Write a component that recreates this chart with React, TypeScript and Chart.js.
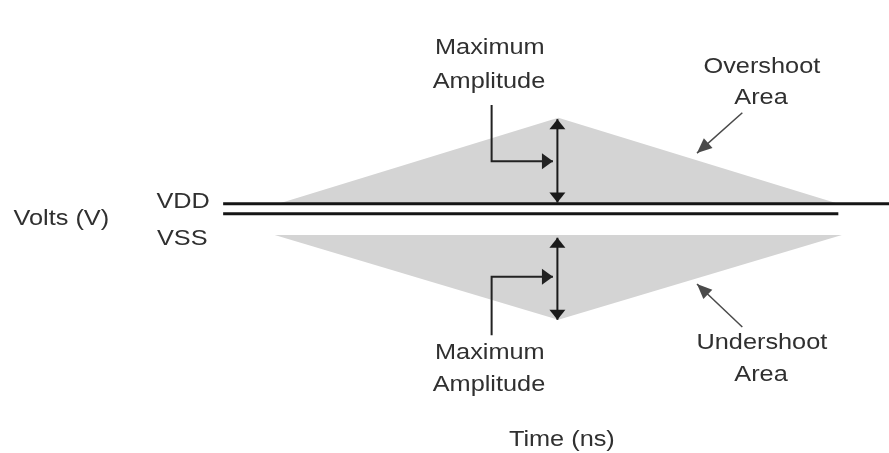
import React, { useEffect, useRef } from "react";
import { Chart, registerables } from "chart.js";

Chart.register(...registerables);

// Abstract axes: time (ns) 0..100 left→right, volts 0..100 bottom→top
const timeRange = [0, 100];
const voltRange = [0, 100];

// Supply rails
const vddLevel = 55.0;
const vssLevel = 52.8;
const vddSpan = [25.1, 100];
const vssSpan = [25.1, 94.3];

// Shaded regions
const overshootArea = [
  { x: 31.3, y: 55.0 },
  { x: 62.8, y: 74.0 },
  { x: 94.3, y: 55.0 },
];
const undershootBase = 48.1;
const undershootArea = [
  { x: 30.9, y: 48.1 },
  { x: 62.8, y: 29.4 },
  { x: 94.7, y: 48.1 },
];

// Maximum amplitude markers (double arrows)
const overshootAmplitude = [
  { x: 62.7, y: 55.3 },
  { x: 62.7, y: 73.7 },
];
const undershootAmplitude = [
  { x: 62.7, y: 47.5 },
  { x: 62.7, y: 29.4 },
];

// Leader arrows
const upperLeader = [
  { x: 55.3, y: 76.8 },
  { x: 55.3, y: 64.4 },
  { x: 62.2, y: 64.4 },
];
const lowerLeader = [
  { x: 55.3, y: 26.0 },
  { x: 55.3, y: 38.9 },
  { x: 62.2, y: 38.9 },
];
const overshootPointer = [
  { x: 83.5, y: 75.1 },
  { x: 78.4, y: 66.2 },
];
const undershootPointer = [
  { x: 83.5, y: 27.8 },
  { x: 78.4, y: 37.3 },
];

// Text labels
const labelTexts = [
  "Maximum", "Amplitude",
  "Maximum", "Amplitude",
  "Overshoot", "Area",
  "Undershoot", "Area",
  "Volts (V)", "VDD", "VSS", "Time (ns)",
];
const labelX = [55.1, 55.0, 55.1, 55.0, 85.7, 85.6, 85.7, 85.6, 6.9, 20.6, 20.5, 63.2];
const labelY = [89.4, 81.9, 22.1, 15.0, 85.2, 78.4, 24.3, 17.2, 51.7, 55.4, 47.2, 2.9];

const arrowPlugin = {
  id: "arrowHeads",
  afterDatasetsDraw(chart: any) {
    const ctx = chart.ctx;
    chart.data.datasets.forEach((ds: any, i: number) => {
      if (!ds.arrowHeads) return;
      const pts = chart.getDatasetMeta(i).data;
      if (pts.length < 2) return;
      const draw = (tip: any, prev: any) => {
        const dx = tip.x - prev.x;
        const dy = tip.y - prev.y;
        const d = Math.hypot(dx, dy) || 1;
        const ux = dx / d, uy = dy / d;
        const len = ds.arrowLen, hw = ds.arrowWidth / 2;
        const bx = tip.x - ux * len, by = tip.y - uy * len;
        ctx.save();
        ctx.fillStyle = ds.borderColor;
        ctx.beginPath();
        ctx.moveTo(tip.x, tip.y);
        ctx.lineTo(bx - uy * hw, by + ux * hw);
        ctx.lineTo(bx + uy * hw, by - ux * hw);
        ctx.closePath();
        ctx.fill();
        ctx.restore();
      };
      if (ds.arrowHeads.includes("end")) draw(pts[pts.length - 1], pts[pts.length - 2]);
      if (ds.arrowHeads.includes("start")) draw(pts[0], pts[1]);
    });
  },
};

const textPlugin = {
  id: "diagramText",
  afterDraw(chart: any) {
    const ctx = chart.ctx;
    const xs = chart.scales.x;
    const ys = chart.scales.y;
    const stretch = 1.15;
    ctx.save();
    ctx.fillStyle = "#303030";
    ctx.font = "22px 'Liberation Sans', Arial, sans-serif";
    ctx.textAlign = "center";
    ctx.textBaseline = "middle";
    labelTexts.forEach((t, i) => {
      const px = xs.getPixelForValue(labelX[i]);
      const py = ys.getPixelForValue(labelY[i]);
      ctx.save();
      ctx.translate(px, py);
      ctx.scale(stretch, 1);
      ctx.fillText(t, 0, 0);
      ctx.restore();
    });
    ctx.restore();
  },
};

const line = (data: any[], color: string, width: number, extra: any = {}) => ({
  data,
  borderColor: color,
  backgroundColor: color,
  borderWidth: width,
  pointRadius: 0,
  fill: false,
  tension: 0,
  order: 0,
  ...extra,
});

export default function App() {
  const ref = useRef<HTMLCanvasElement | null>(null);
  useEffect(() => {
    if (!ref.current) return;
    const chart = new Chart(ref.current, {
      type: "line",
      data: {
        datasets: [
          line(overshootArea, "#d4d4d4", 0, { fill: { value: vddLevel }, backgroundColor: "#d4d4d4", order: 5 }),
          line(undershootArea, "#d4d4d4", 0, { fill: { value: undershootBase }, backgroundColor: "#d4d4d4", order: 5 }),
          line(vddSpan.map((x) => ({ x, y: vddLevel })), "#151515", 3),
          line(vssSpan.map((x) => ({ x, y: vssLevel })), "#151515", 3),
          line(overshootAmplitude, "#1a1a1a", 2, { arrowHeads: ["start", "end"], arrowLen: 10, arrowWidth: 16 }),
          line(undershootAmplitude, "#1a1a1a", 2, { arrowHeads: ["start", "end"], arrowLen: 10, arrowWidth: 16 }),
          line(upperLeader, "#222222", 2, { arrowHeads: ["end"], arrowLen: 11, arrowWidth: 16 }),
          line(lowerLeader, "#222222", 2, { arrowHeads: ["end"], arrowLen: 11, arrowWidth: 16 }),
          line(overshootPointer, "#4a4a4a", 1.5, { arrowHeads: ["end"], arrowLen: 15, arrowWidth: 13 }),
          line(undershootPointer, "#4a4a4a", 1.5, { arrowHeads: ["end"], arrowLen: 15, arrowWidth: 13 }),
        ] as any,
      },
      options: {
        animation: false,
        responsive: false,
        maintainAspectRatio: false,
        layout: { padding: 0 },
        plugins: { legend: { display: false }, tooltip: { enabled: false } },
        events: [],
        scales: {
          x: { type: "linear", min: timeRange[0], max: timeRange[1], display: false },
          y: { type: "linear", min: voltRange[0], max: voltRange[1], display: false },
        },
      },
      plugins: [arrowPlugin, textPlugin],
    });
    return () => chart.destroy();
  }, []);
  return (
    <div style={{ position: "fixed", left: 0, top: 0, width: 889, height: 453, background: "#fff" }}>
      <canvas ref={ref} width={889} height={453} style={{ display: "block" }} />
    </div>
  );
}
